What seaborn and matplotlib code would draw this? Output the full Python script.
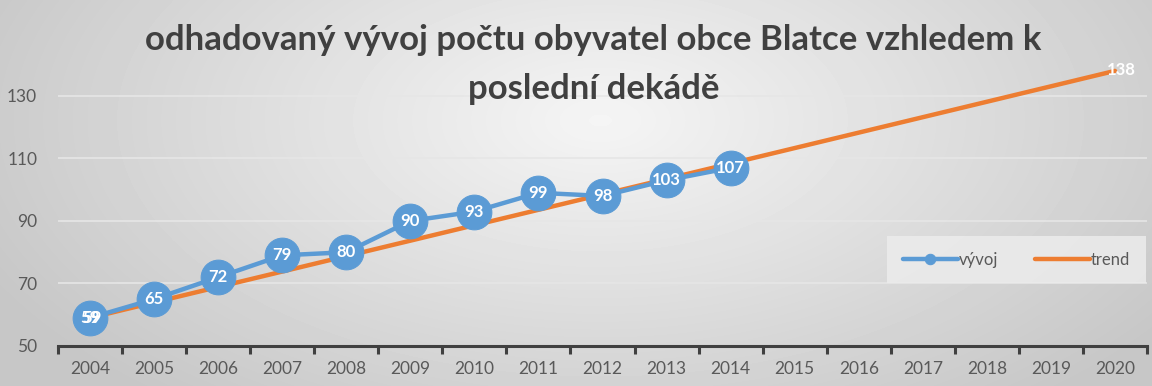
import numpy as np
import pandas as pd
import matplotlib.pyplot as plt
import seaborn as sns

# data
years = list(range(2004, 2021))
vyvoj_years = list(range(2004, 2015))
vyvoj = [59, 65, 72, 79, 80, 90, 93, 99, 98, 103, 107]
trend_years = [2004, 2020]
trend = [59, 138]
yticks = [50, 70, 90, 110, 130]

title = "odhadovaný vývoj počtu obyvatel obce Blatce vzhledem k\nposlední dekádě"

blue = "#5B9BD5"
orange = "#ED7D31"
gray_txt = "#595959"

sns.set_theme(style="white")
plt.rcParams['font.family'] = ['Lato', 'DejaVu Sans']

fig = plt.figure(figsize=(11.52, 3.86), dpi=100)

# radial gray background like the Excel chart area
bg = fig.add_axes([0, 0, 1, 1], zorder=-10)
yy, xx = np.mgrid[0:386, 0:1152]
r = np.sqrt(((xx - 600) / 680.0) ** 2 + ((yy - 120) / 360.0) ** 2)
bg.imshow(0.96 - 0.18 * np.clip(r, 0, 1), cmap="gray", vmin=0, vmax=1,
          aspect="auto", interpolation="bilinear")
bg.axis("off")

ax = fig.add_axes([58 / 1152, 40 / 386, 1089 / 1152, 297 / 386])
ax.patch.set_alpha(0)

df_v = pd.DataFrame({"rok": vyvoj_years, "obyvatel": vyvoj})
df_t = pd.DataFrame({"rok": trend_years, "obyvatel": trend})

sns.lineplot(data=df_v, x="rok", y="obyvatel", ax=ax, color=blue, lw=3.2,
             marker="o", markersize=25, markeredgecolor=blue, label="vývoj",
             zorder=3)
sns.lineplot(data=df_t, x="rok", y="obyvatel", ax=ax, color=orange, lw=3.2,
             label="trend", zorder=2)

for x, v in zip(vyvoj_years, vyvoj):
    ax.text(x, v, str(v), color="white", fontsize=12, fontweight="bold",
            ha="center", va="center", zorder=5)
# trend labels
ax.text(trend_years[0] + 0.03, trend[0], str(trend[0]), color="white", fontsize=12,
        fontweight="bold", ha="center", va="center", zorder=5)
ax.text(trend_years[-1] - 0.12, trend[-1] + 0.3, str(trend[-1]), color="white",
        fontsize=12, fontweight="bold", ha="left", va="center", zorder=5)

ax.set_xlim(2003.5, 2020.5)
ax.set_ylim(50, 145)
ax.set_xticks(years)
ax.set_xticklabels([str(y) for y in years])
ax.set_yticks(yticks)
ax.set_xticks(np.arange(2003.5, 2021, 1), minor=True)
ax.grid(axis="y", color="#e6e6e6", lw=1.2)
ax.set_axisbelow(True)
ax.set_xlabel("")
ax.set_ylabel("")
for s in ["top", "right", "left"]:
    ax.spines[s].set_visible(False)
ax.spines["bottom"].set_color("#404040")
ax.spines["bottom"].set_linewidth(2.2)
ax.tick_params(axis="x", which="major", length=0, pad=11, labelsize=12.5,
               labelcolor=gray_txt)
ax.tick_params(axis="x", which="minor", bottom=True, length=6, width=2.2,
               color="#404040", direction="out")
ax.tick_params(axis="y", length=0, pad=15, labelsize=12.5, labelcolor=gray_txt)

leg = ax.legend(loc="lower right", bbox_to_anchor=(0.995, 0.225), ncol=2,
                frameon=True, fontsize=12, handlelength=3.3,
                columnspacing=2.2, handletextpad=0.05, borderpad=0.7,
                borderaxespad=0, markerscale=0.3)
leg.get_frame().set_facecolor("#ececec")
leg.get_frame().set_edgecolor("none")
leg.get_frame().set_alpha(0.85)
leg.get_frame().set_boxstyle("square", pad=0.25)
for t in leg.get_texts():
    t.set_color(gray_txt)

fig.text(0.515, 0.937, title, ha="center", va="top", fontsize=25,
         fontweight="bold", color="#404040", linespacing=1.65)

fig.savefig("out.png", dpi=100)
